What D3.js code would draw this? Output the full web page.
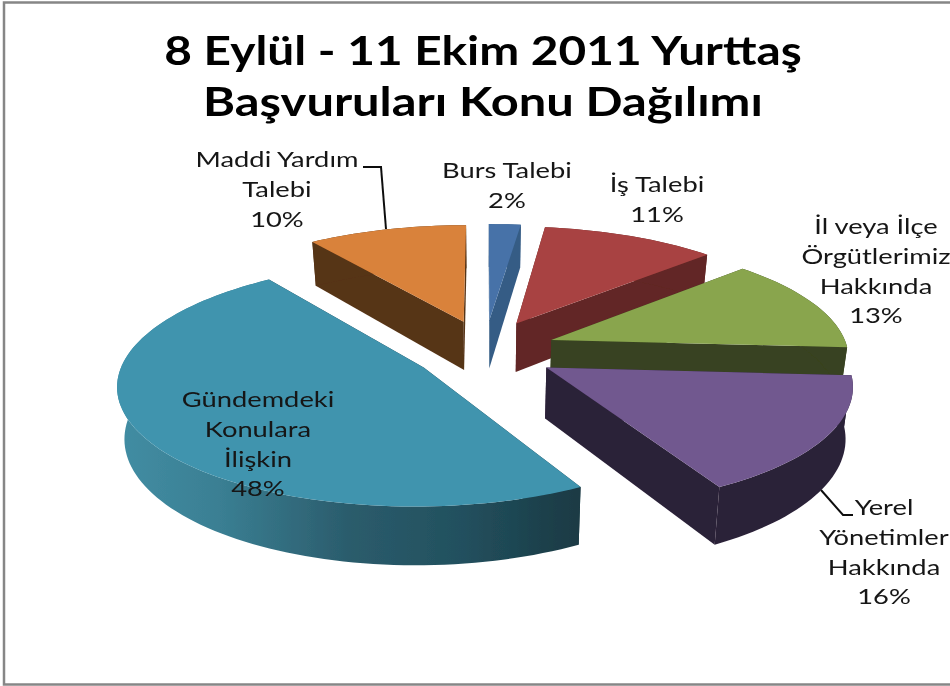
<!DOCTYPE html>
<html>
<head>
<meta charset="utf-8">
<script src="https://cdn.jsdelivr.net/npm/d3@7"></script>
<style>html,body{margin:0;padding:0;background:#fff;overflow:hidden}svg{display:block}text{font-family:Lato,"Open Sans",sans-serif}</style>
</head>
<body>
<svg id="c" width="950" height="686"></svg>
<script>
// Data
const categories = ["Burs Talebi","İş Talebi","İl veya İlçe Örgütlerimiz Hakkında","Yerel Yönetimler Hakkında","Gündemdeki Konulara İlişkin","Maddi Yardım Talebi"];
const seriesValues = [2,11,13,16,48,10];
const titleLines = ["8 Eylül - 11 Ekim 2011 Yurttaş","Başvuruları Konu Dağılımı"];
const labelLines = [["Burs Talebi"],["İş Talebi"],["İl veya İlçe","Örgütlerimiz","Hakkında"],["Yerel","Yönetimler","Hakkında"],["Gündemdeki","Konulara","İlişkin"],["Maddi Yardım","Talebi"]];

// Styles and layout
const topColors = ["#4672a8","#a84342","#89a54e","#71588f","#4094ae","#d9823b"];
const wallColors = ["#355c85","#622625","#384320","#2c2139","url(#tealWall)","#573416"];
const labelPos = [[507,178],[657,192],[876,234],[884,515],[258,407],[277,167]];
const lineHeight = 29.8;
const paintOrder = [0,5,1,2,4,3];
const cx=485, cy=350.5, A=297, B=116, P=0.13, EXPX=0.24, EXPY=0.27, DEPTH=50, BOTX=0.98;
const TITLE_STRETCH=[1.165,1.19], LABEL_STRETCH=1.27;

const svg = d3.select("#c");
const defs = svg.append("defs");
const g = defs.append("linearGradient").attr("id","tealWall").attr("gradientUnits","userSpaceOnUse")
  .attr("x1",118).attr("x2",578).attr("y1",0).attr("y2",0);
[[0,"#428da3"],[0.22,"#3a7f93"],[0.5,"#2b5c6c"],[0.75,"#22505e"],[1,"#1a3a44"]]
  .forEach(([o,c])=>g.append("stop").attr("offset",o).attr("stop-color",c));
defs.append("filter").attr("id","soft").attr("x","-5%").attr("y","-5%").attr("width","110%").attr("height","110%")
  .append("feGaussianBlur").attr("stdDeviation",0.45);

// frame
svg.append("rect").attr("x",4).attr("y",2.5).attr("width",960).attr("height",682)
  .attr("fill","#fff").attr("stroke","#868686").attr("stroke-width",2.5);

const pie = d3.pie().sort(null).value(d=>d)(seriesValues);
function project(a,r,mid,low){
  const X = r*Math.sin(a)+EXPX*Math.sin(mid);
  const Y = -r*Math.cos(a)-EXPY*Math.cos(mid);
  const s = 1/(1-P*Y);
  return [cx+A*X*s*(low?BOTX:1), cy+(B*Y+(low?DEPTH:0))*s];
}
const line = d3.line();
const closed = pts=>line(pts)+"Z";
function arcPts(a0,a1,mid,low){
  const n=Math.max(2,Math.ceil((a1-a0)/0.03));
  return d3.range(n+1).map(i=>project(a0+(a1-a0)*i/n,1,mid,low));
}
const chart = svg.append("g").attr("filter","url(#soft)");
paintOrder.forEach(i=>{
  const d=pie[i], a0=d.startAngle, a1=d.endAngle, mid=(a0+a1)/2;
  const slice=chart.append("g");
  const wall=pts=>slice.append("path").attr("d",closed(pts)).attr("fill",wallColors[i]);
  const aT=project(0,0,mid,false), aB=project(0,0,mid,true);
  // radial walls
  const solid = i===4 ? "#1a3a44" : wallColors[i];
  [a0,a1].forEach(a=>slice.append("path")
    .attr("d",closed([aT,project(a,1,mid,false),project(a,1,mid,true),aB])).attr("fill",solid));
  // outer wall
  wall(arcPts(a0,a1,mid,false).concat(arcPts(a0,a1,mid,true).reverse()));
  // top
  slice.append("path").attr("d",closed([aT].concat(arcPts(a0,a1,mid,false)))).attr("fill",topColors[i]);
});

const ink = svg.append("g").attr("filter","url(#soft)");
function stretch(sel,k){
  sel.each(function(d,i){
    const w=this.getComputedTextLength();
    d3.select(this).attr("textLength",w*(Array.isArray(k)?k[i]:k)).attr("lengthAdjust","spacingAndGlyphs");
  });
}
// title
ink.selectAll("text.title").data(titleLines).join("text").attr("class","title")
  .attr("x",483).attr("y",(d,i)=>65+i*50.5).attr("text-anchor","middle")
  .attr("font-size",41).attr("font-weight",700).attr("fill","#000").text(d=>d)
  .call(stretch,TITLE_STRETCH);

// leader lines
const leaders=[[[363,167],[381,167],[386,229]],[[821,490],[843,515],[853,515]]];
leaders.forEach(p=>ink.append("path").attr("d",d3.line().curve(d3.curveLinear)(p))
  .attr("fill","none").attr("stroke","#111").attr("stroke-width",2));

// labels
labelLines.forEach((lines,i)=>{
  const all=lines.concat([seriesValues[i]+"%"]);
  ink.append("g").selectAll("text").data(all).join("text")
    .attr("x",labelPos[i][0]).attr("y",(d,k)=>labelPos[i][1]+k*lineHeight)
    .attr("text-anchor","middle").attr("font-size",21.5).attr("fill","#141414").text(d=>d)
    .call(stretch,LABEL_STRETCH);
});
</script>
</body>
</html>
